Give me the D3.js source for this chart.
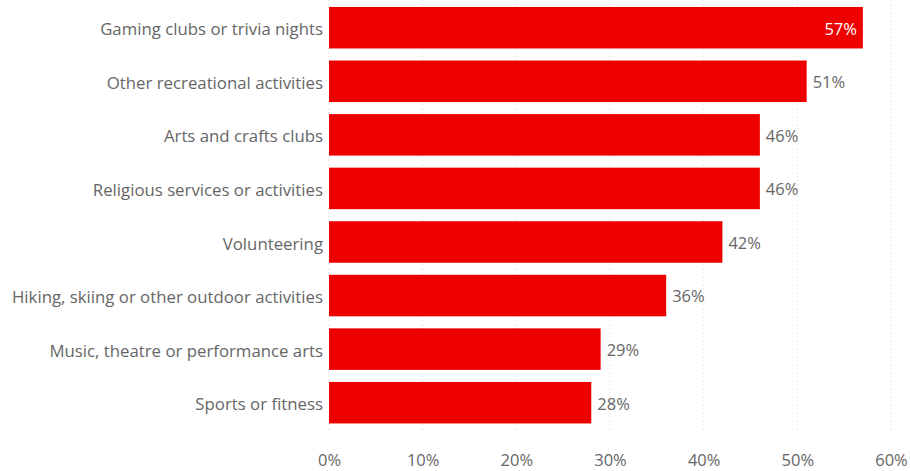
<!DOCTYPE html>
<html>
<head>
<meta charset="utf-8">
<script src="https://cdn.jsdelivr.net/npm/d3@7"></script>
<style>
  html, body { margin: 0; padding: 0; background: #fff; }
  svg { display: block; }
  text { font-family: "Open Sans", "Noto Sans", sans-serif; }
</style>
</head>
<body>
<svg id="chart" width="910" height="471"></svg>
<script>
// Share of respondents taking part in each activity
const categories = [
  "Gaming clubs or trivia nights",
  "Other recreational activities",
  "Arts and crafts clubs",
  "Religious services or activities",
  "Volunteering",
  "Hiking, skiing or other outdoor activities",
  "Music, theatre or performance arts",
  "Sports or fitness"
];
const values = [57, 51, 46, 46, 42, 36, 29, 28];
const tickValues = [0, 10, 20, 30, 40, 50, 60];

(function draw() {
  const svg = d3.select("#chart");
  const plotLeft = 329, plotRight = 891, plotTop = 1.6, plotBottom = 428.8;

  const x = d3.scaleLinear().domain([0, 60]).range([plotLeft, plotRight]);
  const y = d3.scaleBand().domain(categories).range([plotTop, plotBottom])
    .paddingInner(0.225).paddingOuter(0.1);

  const textColor = "#666666";
  const barColor = "#ee0000";

  // Dotted vertical gridlines
  svg.append("g")
    .selectAll("line")
    .data(tickValues)
    .join("line")
    .attr("x1", d => x(d)).attr("x2", d => x(d))
    .attr("y1", 0).attr("y2", 432)
    .attr("stroke", "#dcdcdc")
    .attr("stroke-width", 1)
    .attr("stroke-dasharray", "1,3");

  // Bottom axis labels
  const xAxis = d3.axisBottom(x)
    .tickValues(tickValues)
    .tickFormat(d => d + "%")
    .tickSize(0)
    .tickPadding(0);
  const gx = svg.append("g").attr("transform", `translate(0, 454)`).call(xAxis);
  gx.select(".domain").remove();
  gx.selectAll("text")
    .attr("fill", textColor)
    .style("font-size", "16.5px")
    .style("font-family", "'Open Sans', 'Noto Sans', sans-serif");

  // Category labels
  const yAxis = d3.axisLeft(y).tickSize(0).tickPadding(6);
  const gy = svg.append("g").attr("transform", `translate(${plotLeft}, 0)`).call(yAxis);
  gy.select(".domain").remove();
  gy.selectAll("text")
    .attr("dy", "0.45em")
    .attr("fill", textColor)
    .style("font-size", "16.8px")
    .style("font-family", "'Open Sans', 'Noto Sans', sans-serif");

  // Bars
  const data = categories.map((c, i) => ({ c, v: values[i] }));
  svg.append("g")
    .selectAll("rect")
    .data(data)
    .join("rect")
    .attr("x", x(0))
    .attr("y", d => y(d.c))
    .attr("width", d => x(d.v) - x(0))
    .attr("height", y.bandwidth())
    .attr("fill", barColor);

  // Value labels: inside the longest bar, outside the rest
  const maxV = d3.max(values);
  svg.append("g")
    .selectAll("text")
    .data(data)
    .join("text")
    .attr("x", d => d.v === maxV ? x(d.v) - 6 : x(d.v) + 6)
    .attr("y", d => y(d.c) + y.bandwidth() / 2)
    .attr("dy", "0.42em")
    .attr("text-anchor", d => d.v === maxV ? "end" : "start")
    .attr("fill", d => d.v === maxV ? "#ffffff" : textColor)
    .style("font-size", "16.5px")
    .text(d => d.v + "%");
})();
</script>
</body>
</html>
